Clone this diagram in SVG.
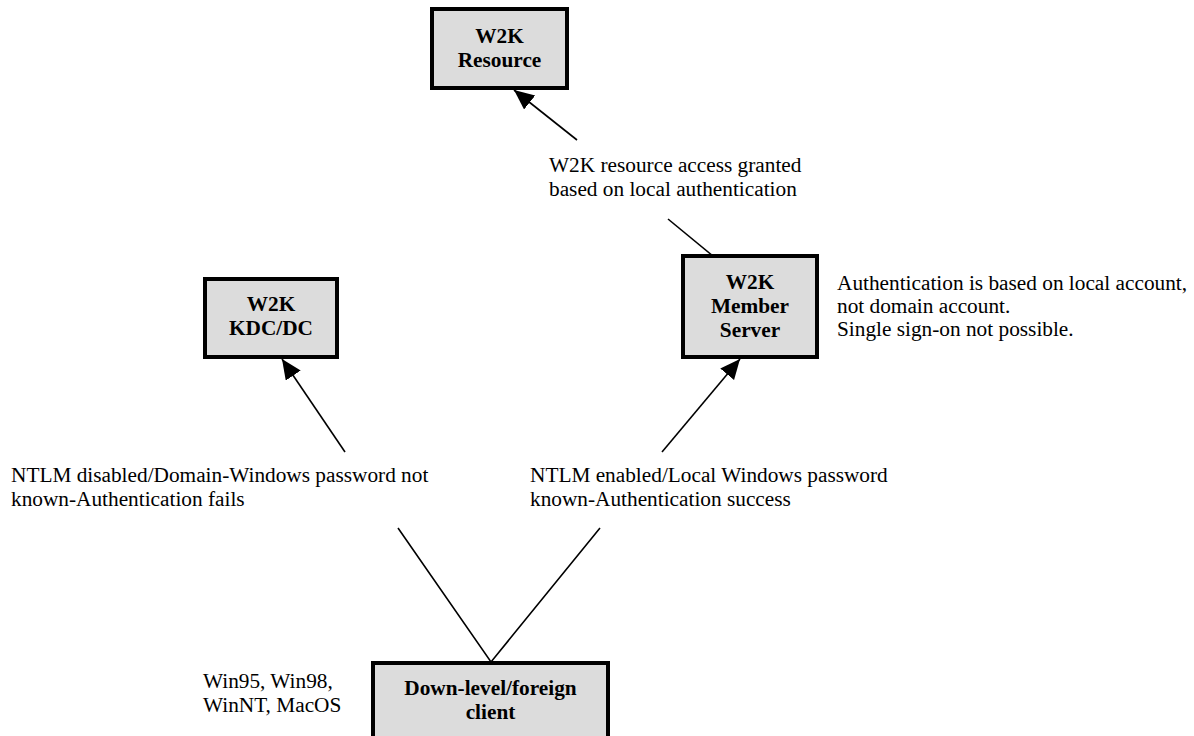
<svg xmlns="http://www.w3.org/2000/svg" width="1194" height="736" viewBox="0 0 1194 736">
<style>
.box{fill:#dcdcdc;stroke:#000;stroke-width:4}
.bt{font-family:"Liberation Serif",serif;font-size:21.3px;font-weight:bold;text-anchor:middle;fill:#000}
.t{font-family:"Liberation Serif",serif;font-size:21.3px;fill:#000}
.ln{stroke:#000;stroke-width:1.6;fill:none}
</style>
<defs>
<marker id="ah" markerUnits="userSpaceOnUse" markerWidth="22" markerHeight="20" refX="20" refY="9" orient="auto">
<path d="M0,0 L20,9 L0,18 z" fill="#000"/>
</marker>
</defs>
<rect width="1194" height="736" fill="#fff"/>
<g id="connectors">
<line class="ln" x1="577" y1="140" x2="514" y2="90" marker-end="url(#ah)"/>
<line class="ln" x1="668" y1="219" x2="713" y2="256"/>
<line class="ln" x1="345" y1="452" x2="282" y2="359" marker-end="url(#ah)"/>
<line class="ln" x1="662" y1="452" x2="740" y2="359" marker-end="url(#ah)"/>
<polyline class="ln" points="398,528 491,662 600,528"/>
</g>
<g id="resource">
<rect class="box" x="432" y="9" width="135" height="79"/>
<text class="bt" x="499.5" y="43">W2K</text>
<text class="bt" x="499.5" y="67">Resource</text>
</g>
<g id="kdc">
<rect class="box" x="205" y="279" width="132" height="78"/>
<text class="bt" x="271" y="311">W2K</text>
<text class="bt" x="271" y="335">KDC/DC</text>
</g>
<g id="member">
<rect class="box" x="683" y="256" width="134" height="101"/>
<text class="bt" x="750" y="289">W2K</text>
<text class="bt" x="750" y="313">Member</text>
<text class="bt" x="750" y="337">Server</text>
</g>
<g id="client">
<rect class="box" x="373" y="663" width="235" height="80"/>
<text class="bt" x="490.5" y="695">Down-level/foreign</text>
<text class="bt" x="490.5" y="719">client</text>
</g>
<g id="labels">
<text class="t" x="549" y="172">W2K resource access granted</text>
<text class="t" x="549" y="196">based on local authentication</text>
<text class="t" x="837" y="290">Authentication is based on local account,</text>
<text class="t" x="837" y="313">not domain account.</text>
<text class="t" x="837" y="336">Single sign-on not possible.</text>
<text class="t" x="11" y="482">NTLM disabled/Domain-Windows password not</text>
<text class="t" x="11" y="506">known-Authentication fails</text>
<text class="t" x="530" y="482">NTLM enabled/Local Windows password</text>
<text class="t" x="530" y="506">known-Authentication success</text>
<text class="t" x="203" y="688">Win95, Win98,</text>
<text class="t" x="203" y="712">WinNT, MacOS</text>
</g>
</svg>
